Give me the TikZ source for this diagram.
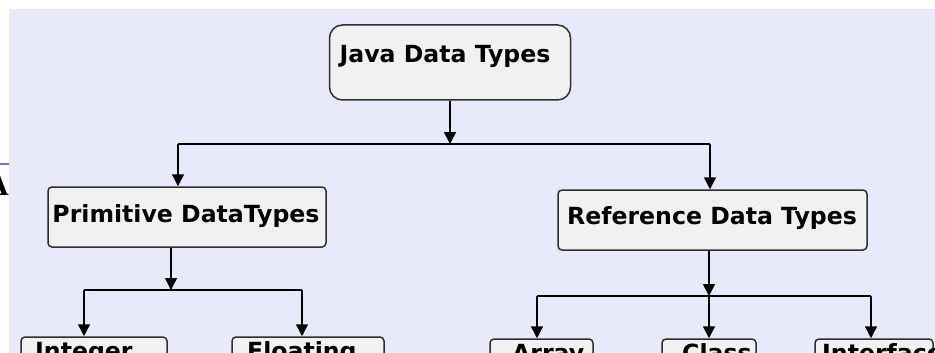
\documentclass[tikz,border=0pt]{standalone}
\usepackage{fontspec}
\setmainfont{DejaVu Sans}
\newfontfamily\serifA{Liberation Serif}
\usetikzlibrary{arrows.meta}
\definecolor{panel}{HTML}{E8EAFC}
\definecolor{boxfill}{HTML}{F1F1F1}
\definecolor{boxline}{HTML}{2E2E2E}
\definecolor{rulepurple}{HTML}{8A6AB8}
\tikzset{
  typebox/.style={draw=boxline, fill=boxfill, line width=1.5pt, rounded corners=4pt, inner sep=0pt},
  rootbox/.style={typebox, rounded corners=13pt},
  lbl/.style={inner sep=0pt, font=\fontsize{23.6}{26}\selectfont\bfseries},
  link/.style={draw=black, line width=1.5pt},
  arr/.style={link, -{Triangle[width=12pt,length=12pt]}},
}
\begin{document}
\begin{tikzpicture}[x=1pt,y=-1pt]
\useasboundingbox (0,0) rectangle (935,353);
\clip (0,0) rectangle (935,353);
% page margin with a stray heading letter and rule
\fill[white] (0,0) rectangle (935,353);
\node[anchor=base east, inner sep=0pt] (letterA) at (9,195) {\serifA\bfseries\fontsize{32}{32}\selectfont A};
\fill[panel] (9,9) rectangle (935,360);
\draw[rulepurple, line width=1.5pt] (0,164) -- (9,164);

% boxes
\node[rootbox, minimum width=241pt, minimum height=75pt] (java) at (450,62.5) {};
\node[lbl] (javaT) at (445,56) {Java Data Types};
\node[typebox, minimum width=278pt, minimum height=60pt] (prim) at (187,217) {};
\node[lbl] (primT) at (186,216) {Primitive DataTypes};
\node[typebox, minimum width=309pt, minimum height=60pt] (ref) at (712.5,220) {};
\node[lbl] (refT) at (712,218) {Reference Data Types};

\node[typebox, minimum width=146pt, minimum height=44pt] (int) at (94,359) {};
\node[typebox, minimum width=152pt, minimum height=44pt] (flt) at (308,359) {};
\node[typebox, minimum width=103pt, minimum height=44pt] (arrb) at (541.5,361) {};
\node[typebox, minimum width=94pt, minimum height=44pt] (cls) at (709,361) {};
\node[typebox, minimum width=118pt, minimum height=44pt] (ifc) at (874,361) {};
\node[lbl, anchor=base west] (intT) at (35,359) {Integer};
\node[lbl, anchor=base west] (fltT) at (247,359) {Floating};
\node[lbl, anchor=base west] (arrT) at (512,361) {Array};
\node[lbl, anchor=base west] (clsT) at (682,361) {Class};
\node[lbl, anchor=base west] (ifcT) at (822,361) {Interface};

% junction points
\coordinate (jj) at (450,144);
\coordinate (jl) at (178,144);
\coordinate (jr) at (710,144);
\coordinate (pj) at (171,290);
\coordinate (pl) at (84,290);
\coordinate (pr) at (302,290);
\coordinate (rj) at (709,296);
\coordinate (rl) at (537,296);
\coordinate (rr) at (871,296);

% root level
\draw[arr] (jj |- java.south) -- (jj);
\draw[link] (jl) -- (jr);
\draw[arr] (jl) -- (prim.north -| jl);
\draw[arr] (jr) -- (ref.north -| jr);

% primitive level
\draw[arr] (pj |- prim.south) -- (pj);
\draw[link] (pl) -- (pr);
\draw[arr] (pl) -- (int.north -| pl);
\draw[arr] (pr) -- (flt.north -| pr);

% reference level
\draw[arr] (rj |- ref.south) -- (rj);
\draw[link] (rl) -- (rr);
\draw[arr] (rl) -- (arrb.north -| rl);
\draw[arr] (rj) -- (cls.north -| rj);
\draw[arr] (rr) -- (ifc.north -| rr);
\end{tikzpicture}
\end{document}
